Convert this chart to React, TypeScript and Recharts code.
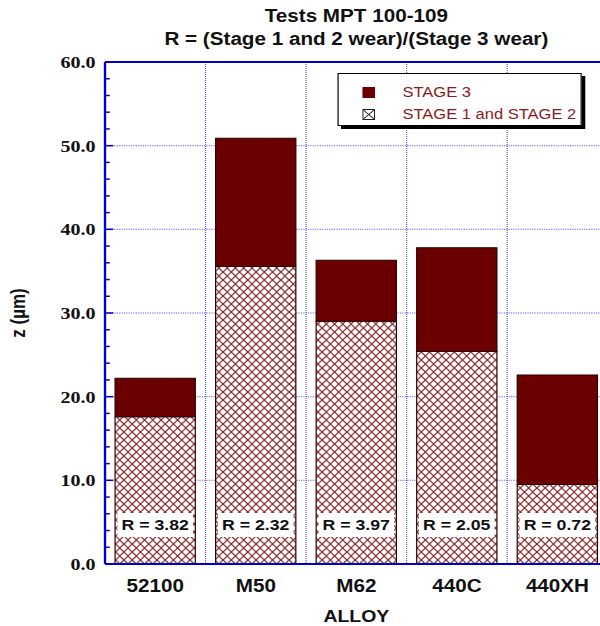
import React from "react";
import {
  BarChart,
  Bar,
  XAxis,
  YAxis,
  CartesianGrid,
  ReferenceLine,
  LabelList,
  Legend,
} from "recharts";

const alloys = ["52100", "M50", "M62", "440C", "440XH"];
const stage12 = [17.6, 35.6, 29.0, 25.4, 9.5];
const stage3 = [4.6, 15.3, 7.3, 12.4, 13.1];
const ratios = ["3.82", "2.32", "3.97", "2.05", "0.72"];
const yTicks = [
  0, 2, 4, 6, 8, 10, 12, 14, 16, 18, 20, 22, 24, 26, 28, 30, 32, 34, 36, 38,
  40, 42, 44, 46, 48, 50, 52, 54, 56, 58, 60,
];
const gridValues = [10, 20, 30, 40, 50];
const legendItems = ["STAGE 3", "STAGE 1 and STAGE 2"];

const BLUE = "#0000c8";
const DARK = "#6b0000";
const HATCH = "#842020";
const LEGEND_TEXT = "#8b1a1a";
const SANS = "'Liberation Sans', Arial, sans-serif";
const SERIF = "'Liberation Serif', 'Times New Roman', serif";
const STRETCH = 1.18;

const data = alloys.map((a, i) => ({
  alloy: a,
  s12: stage12[i],
  s3: stage3[i],
  r: "R = " + ratios[i],
}));

function YTick(props: any) {
  const { x, y, payload } = props;
  const major = payload.value % 10 === 0;
  return (
    <g>
      <line
        x1={x}
        x2={x + (major ? 7 : 4)}
        y1={y}
        y2={y}
        stroke={BLUE}
        strokeWidth={1.5}
      />
      {major && (
        <text
          x={x - 8}
          y={y}
          dy="0.35em"
          textAnchor="end"
          fontFamily={SERIF}
          fontWeight="bold"
          fontSize={17}
          fill="#111"
        >
          {payload.value.toFixed(1)}
        </text>
      )}
    </g>
  );
}

function RLabel(props: any) {
  const { x, y, width, height, value } = props;
  const cx = x + width / 2;
  const cy = y + height - 39;
  return (
    <g>
      <rect x={cx - (width - 4) / 2} y={cy - 12} width={width - 4} height={24} fill="#fff" />
      <text
        x={cx}
        y={cy}
        dy="0.36em"
        textAnchor="middle"
        fontFamily={SANS}
        fontWeight="bold"
        fontSize={15}
        fill="#111"
      >
        {value}
      </text>
    </g>
  );
}

function LegendBox() {
  return (
    <div
      style={{
        border: "1px solid #000",
        background: "#fff",
        boxShadow: "3px 3px 0 #000",
        height: 53,
        boxSizing: "border-box",
        paddingTop: 7,
        fontFamily: SANS,
        fontSize: 14,
        color: LEGEND_TEXT,
        whiteSpace: "nowrap",
      }}
    >
      {legendItems.map((name, i) => (
        <div key={name} style={{ display: "flex", alignItems: "center", height: 22 }}>
          <svg width={11} height={11} style={{ marginLeft: 20, marginRight: 23, flexShrink: 0 }}>
            {i === 0 ? (
              <rect x={0} y={0} width={11} height={11} fill={DARK} />
            ) : (
              <g>
                <rect x={0.5} y={0.5} width={10} height={10} fill="#fff" stroke="#222" />
                <path d="M1,1 L10,10 M10,1 L1,10" stroke="#222" strokeWidth={1} />
              </g>
            )}
          </svg>
          <span>{name}</span>
        </div>
      ))}
    </div>
  );
}

export default function App() {
  return (
    <div
      style={{
        position: "absolute",
        left: 0,
        top: 0,
        width: 600,
        height: 626,
        overflow: "hidden",
        background: "#fff",
      }}
    >
      <div
        style={{
          position: "relative",
          width: 527,
          height: 626,
          transform: `scaleX(${STRETCH})`,
          transformOrigin: "0 0",
        }}
      >
        <div
          style={{
            position: "absolute",
            left: 89,
            top: 5,
            width: 426,
            textAlign: "center",
            fontFamily: SANS,
            fontWeight: "bold",
            fontSize: 17.5,
            lineHeight: "23px",
            color: "#111",
            zIndex: 2,
          }}
        >
          <div>Tests MPT 100-109</div>
          <div>R = (Stage 1 and 2 wear)/(Stage 3 wear)</div>
        </div>
        <BarChart
          width={527}
          height={626}
          data={data}
          margin={{ top: 62, right: 12, bottom: 0, left: 0 }}
          barCategoryGap="10%"
          style={{ fontFamily: SANS }}
        >
          <defs>
            <pattern id="hatch" width={7} height={8} patternUnits="userSpaceOnUse">
              <rect width={7} height={8} fill="#fff" />
              <path d="M0,0 L7,8 M7,0 L0,8" stroke={HATCH} strokeWidth={1.1} />
            </pattern>
          </defs>
          <CartesianGrid
            stroke="#5a5aee"
            strokeDasharray="1 1"
            horizontalCoordinatesGenerator={({ offset }: any) =>
              gridValues.map((v) => offset.top + offset.height * (1 - v / 60))
            }
            verticalCoordinatesGenerator={({ offset }: any) =>
              alloys
                .slice(1)
                .map((_, i) => offset.left + (offset.width * (i + 1)) / alloys.length)
            }
          />
          <XAxis
            dataKey="alloy"
            height={62}
            axisLine={{ stroke: BLUE, strokeWidth: 2 }}
            tickLine={false}
            tickSize={0}
            tickMargin={16}
            tick={{ fill: "#111", fontSize: 17.5, fontWeight: "bold", fontFamily: SANS }}
            label={{
              value: "ALLOY",
              position: "insideBottom",
              offset: 4,
              fill: "#111",
              fontSize: 16.5,
              fontWeight: "bold",
            }}
          />
          <YAxis
            width={89}
            domain={[0, 60]}
            ticks={yTicks}
            interval={0}
            axisLine={{ stroke: BLUE, strokeWidth: 2 }}
            tickLine={false}
            tickSize={0}
            tickMargin={0}
            tick={<YTick />}
            label={{
              value: "z (µm)",
              angle: -90,
              position: "insideLeft",
              offset: 15,
              fill: "#111",
              fontSize: 17,
              fontWeight: "bold",
              style: { textAnchor: "middle" },
            }}
          />
          <ReferenceLine y={60} stroke={BLUE} strokeWidth={2} />
          <Bar
            dataKey="s12"
            stackId="a"
            fill="url(#hatch)"
            stroke="#2a0000"
            strokeWidth={1}
            isAnimationActive={false}
          >
            <LabelList dataKey="r" content={<RLabel />} />
          </Bar>
          <Bar
            dataKey="s3"
            stackId="a"
            fill={DARK}
            stroke="#2a0000"
            strokeWidth={1}
            isAnimationActive={false}
          />
          <Legend
            layout="vertical"
            align="center"
            verticalAlign="middle"
            wrapperStyle={{ left: 286, top: 73, width: 207 }}
            content={() => <LegendBox />}
          />
        </BarChart>
      </div>
    </div>
  );
}
